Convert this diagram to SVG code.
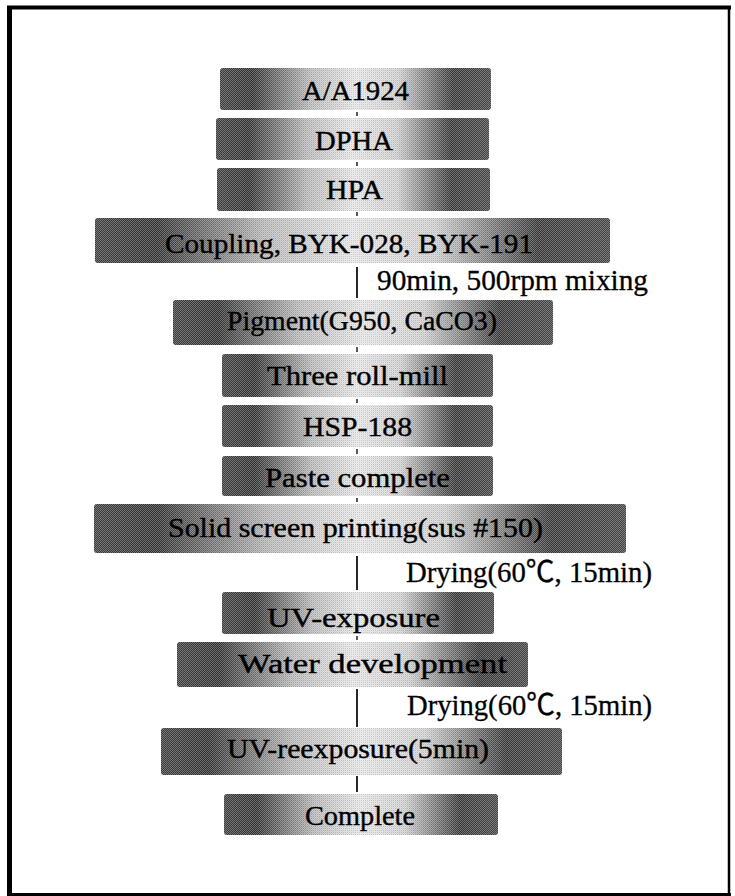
<svg xmlns="http://www.w3.org/2000/svg" width="735" height="896" viewBox="0 0 735 896">
<style>
.box{fill:url(#g);}
.dith{fill:url(#dp);}
.t{font-family:"Liberation Serif","Times New Roman",serif;font-size:28px;fill:#000;stroke:#000;stroke-width:0.4;}
.a{font-family:"Liberation Serif","Times New Roman",serif;font-size:29px;fill:#000;stroke:#000;stroke-width:0.3;}
.deg{font-family:"Noto Sans CJK KR","DejaVu Serif",serif;}
.tick{stroke:#222;stroke-width:1.5;}
.ln{stroke:#111;stroke-width:1.8;}
.frame{stroke:#000;fill:none;}
</style>
<defs>
<linearGradient id="g" x1="0" y1="0" x2="1" y2="0">
<stop offset="0" stop-color="#404040"/>
<stop offset="0.12" stop-color="#303030"/>
<stop offset="0.33" stop-color="#b8b8b8"/>
<stop offset="0.5" stop-color="#e6e6e6"/>
<stop offset="0.66" stop-color="#cfcfcf"/>
<stop offset="0.86" stop-color="#363636"/>
<stop offset="1" stop-color="#474747"/>
</linearGradient>
<pattern id="dp" width="2" height="2" patternUnits="userSpaceOnUse">
<rect x="0" y="0" width="1" height="1" fill="#fff" fill-opacity="0.3"/>
<rect x="1" y="1" width="1" height="1" fill="#fff" fill-opacity="0.3"/>
<rect x="1" y="0" width="1" height="1" fill="#000" fill-opacity="0.12"/>
</pattern>
</defs>
<rect width="735" height="896" fill="#fff"/>
<g id="frame">
<line class="frame" x1="7" y1="7.5" x2="731" y2="7.5" stroke-width="4"/>
<line class="frame" x1="9.5" y1="6" x2="9.5" y2="895" stroke-width="5"/>
<line class="frame" x1="729" y1="6" x2="729" y2="895" stroke-width="2.5"/>
<line class="frame" x1="7" y1="894.5" x2="731" y2="894.5" stroke-width="3"/>
</g>
<g id="connectors">
<line class="tick" x1="357" y1="112" x2="357" y2="116"/>
<line class="tick" x1="357" y1="162" x2="357" y2="166"/>
<line class="tick" x1="357" y1="212" x2="357" y2="216"/>
<line class="ln" x1="357" y1="267" x2="357" y2="298"/>
<line class="tick" x1="357" y1="347" x2="357" y2="352"/>
<line class="tick" x1="357" y1="399" x2="357" y2="403"/>
<line class="tick" x1="357" y1="449" x2="357" y2="454"/>
<line class="tick" x1="357" y1="498" x2="357" y2="502"/>
<line class="ln" x1="357" y1="556" x2="357" y2="590"/>
<line class="tick" x1="357" y1="636" x2="357" y2="640"/>
<line class="ln" x1="357" y1="689" x2="357" y2="727"/>
<line class="ln" x1="357" y1="776" x2="357" y2="792"/>
</g>
<g id="n1"><rect class="box" x="220" y="68" width="271" height="42" rx="3"/><rect class="dith" x="220" y="68" width="271" height="42" rx="3"/><text class="t" x="302" y="100" textLength="107" lengthAdjust="spacingAndGlyphs">A/A1924</text></g>
<g id="n2"><rect class="box" x="216" y="118" width="273" height="42" rx="3"/><rect class="dith" x="216" y="118" width="273" height="42" rx="3"/><text class="t" x="315" y="150" textLength="78" lengthAdjust="spacingAndGlyphs">DPHA</text></g>
<g id="n3"><rect class="box" x="217" y="168" width="273" height="43" rx="3"/><rect class="dith" x="217" y="168" width="273" height="43" rx="3"/><text class="t" x="326" y="199" textLength="57" lengthAdjust="spacingAndGlyphs">HPA</text></g>
<g id="n4"><rect class="box" x="95" y="218" width="515" height="45" rx="3"/><rect class="dith" x="95" y="218" width="515" height="45" rx="3"/><text class="t" x="165" y="253" textLength="368" lengthAdjust="spacingAndGlyphs">Coupling, BYK-028, BYK-191</text></g>
<g id="ann1"><text class="a" x="377" y="290" textLength="271" lengthAdjust="spacingAndGlyphs">90min, 500rpm mixing</text></g>
<g id="n5"><rect class="box" x="173" y="300" width="380" height="45" rx="3"/><rect class="dith" x="173" y="300" width="380" height="45" rx="3"/><text class="t" x="227" y="330" textLength="270" lengthAdjust="spacingAndGlyphs">Pigment(G950, CaCO3)</text></g>
<g id="n6"><rect class="box" x="222" y="354" width="271" height="43" rx="3"/><rect class="dith" x="222" y="354" width="271" height="43" rx="3"/><text class="t" x="267" y="385" textLength="181" lengthAdjust="spacingAndGlyphs">Three roll-mill</text></g>
<g id="n7"><rect class="box" x="222" y="405" width="271" height="42" rx="3"/><rect class="dith" x="222" y="405" width="271" height="42" rx="3"/><text class="t" x="303" y="436" textLength="109" lengthAdjust="spacingAndGlyphs">HSP-188</text></g>
<g id="n8"><rect class="box" x="222" y="456" width="271" height="40" rx="3"/><rect class="dith" x="222" y="456" width="271" height="40" rx="3"/><text class="t" x="265" y="487" textLength="185" lengthAdjust="spacingAndGlyphs">Paste complete</text></g>
<g id="n9"><rect class="box" x="94" y="504" width="532" height="49" rx="3"/><rect class="dith" x="94" y="504" width="532" height="49" rx="3"/><text class="t" x="168" y="537" textLength="375" lengthAdjust="spacingAndGlyphs">Solid screen printing(sus #150)</text></g>
<g id="ann2"><text class="a" x="406" y="582" textLength="246" lengthAdjust="spacingAndGlyphs">Drying(60<tspan class="deg">℃</tspan>, 15min)</text></g>
<g id="n10"><rect class="box" x="222" y="592" width="272" height="42" rx="3"/><rect class="dith" x="222" y="592" width="272" height="42" rx="3"/><text class="t" x="267" y="627" textLength="173" lengthAdjust="spacingAndGlyphs">UV-exposure</text></g>
<g id="n11"><rect class="box" x="177" y="642" width="351" height="45" rx="3"/><rect class="dith" x="177" y="642" width="351" height="45" rx="3"/><text class="t" x="238" y="673" textLength="269" lengthAdjust="spacingAndGlyphs">Water development</text></g>
<g id="ann3"><text class="a" x="407" y="715" textLength="245" lengthAdjust="spacingAndGlyphs">Drying(60<tspan class="deg">℃</tspan>, 15min)</text></g>
<g id="n12"><rect class="box" x="161" y="728" width="401" height="47" rx="3"/><rect class="dith" x="161" y="728" width="401" height="47" rx="3"/><text class="t" x="227" y="758" textLength="262" lengthAdjust="spacingAndGlyphs">UV-reexposure(5min)</text></g>
<g id="n13"><rect class="box" x="224" y="794" width="274" height="41" rx="3"/><rect class="dith" x="224" y="794" width="274" height="41" rx="3"/><text class="t" x="305" y="825" textLength="110" lengthAdjust="spacingAndGlyphs">Complete</text></g>
</svg>
